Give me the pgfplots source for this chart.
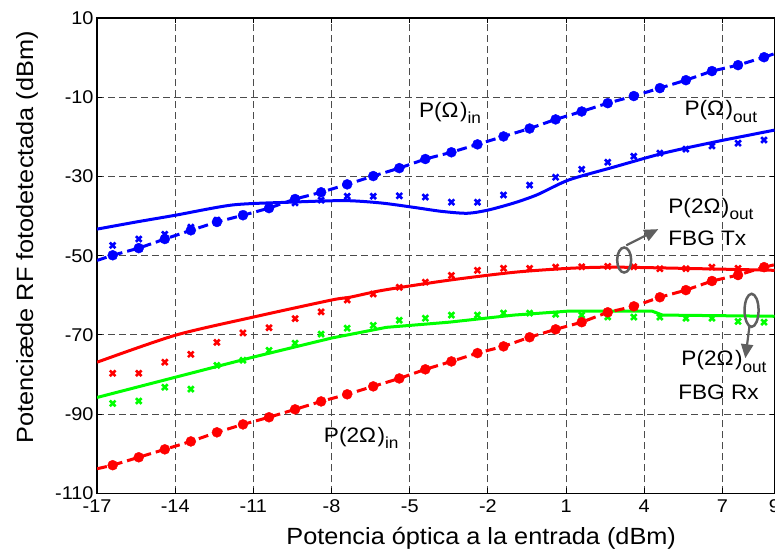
\documentclass[border=0pt]{standalone}
\usepackage{fontspec}
\setmainfont{Liberation Sans}[FakeStretch=1.08]
\usepackage{pgfplots}
\pgfplotsset{compat=1.18}
\usetikzlibrary{arrows.meta}
\definecolor{mblue}{RGB}{0,0,255}
\definecolor{mred}{RGB}{255,0,0}
\definecolor{mgreen}{RGB}{0,255,0}
\definecolor{annot}{RGB}{95,95,95}
\newcommand{\sub}[1]{\raisebox{-0.32em}{\fontsize{16}{16}\selectfont #1}}

\pgfplotstableread{
x y
-16.4 -47.4
-15.4 -45.8
-14.4 -44.6
-13.4 -42.8
-12.4 -41.0
-11.4 -39.5
-10.4 -38.0
-9.4 -36.7
-8.4 -36.0
-7.4 -35.0
-6.4 -35.0
-5.4 -34.9
-4.4 -35.2
-3.4 -36.5
-2.4 -36.5
-1.4 -34.7
-0.4 -32.2
0.6 -30.2
1.6 -28.2
2.6 -26.4
3.6 -24.9
4.6 -24.1
5.6 -23.1
6.6 -22.3
7.6 -21.6
8.6 -20.8
}\bluex

\pgfplotstableread{
x y
-16.4 -79.7
-15.4 -79.7
-14.4 -76.9
-13.4 -74.9
-12.4 -71.9
-11.4 -69.5
-10.4 -68.2
-9.4 -65.9
-8.4 -64.2
-7.4 -61.2
-6.4 -59.7
-5.4 -58.0
-4.4 -56.7
-3.4 -55.0
-2.4 -53.7
-1.4 -53.2
-0.4 -53.2
0.6 -52.9
1.6 -52.8
2.6 -52.7
3.6 -52.8
4.6 -53.3
5.6 -53.3
6.6 -52.9
7.6 -53.2
8.6 -53.0
}\redx

\pgfplotstableread{
x y
-16.4 -87.3
-15.4 -86.7
-14.4 -83.2
-13.4 -83.7
-12.4 -77.7
-11.4 -76.4
-10.4 -73.9
-9.4 -72.1
-8.4 -69.8
-7.4 -68.3
-6.4 -67.6
-5.4 -66.3
-4.4 -65.8
-3.4 -65.0
-2.4 -65.0
-1.4 -64.5
-0.4 -64.5
0.6 -64.8
1.6 -65.0
2.6 -65.5
3.6 -65.5
4.6 -65.5
5.6 -65.8
6.6 -65.8
7.6 -66.6
8.6 -66.8
}\greenx

\pgfplotstableread{
x y
-16.4 -49.9
-15.4 -48.1
-14.4 -45.8
-13.4 -43.6
-12.4 -41.5
-11.4 -39.8
-10.4 -38.0
-9.4 -35.7
-8.4 -34.0
-7.4 -32.0
-6.4 -29.9
-5.4 -27.9
-4.4 -25.6
-3.4 -23.9
-2.4 -21.9
-1.4 -19.9
-0.4 -17.9
0.6 -15.6
1.6 -13.6
2.6 -11.5
3.6 -9.7
4.6 -7.7
5.6 -5.7
6.6 -3.4
7.6 -1.9
8.6 0.1
}\bluein

\pgfplotstableread{
x y
-16.4 -102.9
-15.4 -100.9
-14.4 -98.9
-13.4 -96.9
-12.4 -94.6
-11.4 -92.6
-10.4 -90.8
-9.4 -88.8
-8.4 -86.8
-7.4 -85.0
-6.4 -83.0
-5.4 -81.0
-4.4 -78.7
-3.4 -76.7
-2.4 -74.6
-1.4 -72.9
-0.4 -70.6
0.6 -68.6
1.6 -66.8
2.6 -64.3
3.6 -62.8
4.6 -60.5
5.6 -58.7
6.6 -56.4
7.6 -54.9
8.6 -52.9
}\redin

\begin{document}
\begin{tikzpicture}
\begin{axis}[
  width=677bp, height=475bp, scale only axis,
  xmin=-17, xmax=9, ymin=-110, ymax=10,
  xtick={-17,-14,-11,-8,-5,-2,1,4,7,9},
  ytick={-110,-90,-70,-50,-30,-10,10},
  grid=major,
  major grid style={black!70, line width=0.8bp, dash pattern=on 7bp off 4bp},
  axis line style={black, line width=1.2bp},
  tick align=inside, major tick length=5bp,
  tick style={black, line width=0.8bp},
  /pgf/number format/assume math mode=true,
  ticklabel style={font=\fontsize{18.5}{20}\selectfont},
  xticklabel style={yshift=-3bp},
  xlabel={Potencia óptica a la entrada (dBm)},
  ylabel={Potenciæde RF fotodetectada (dBm)},
  label style={font=\fontsize{23.5}{26}\selectfont},
  xlabel style={at={(axis description cs:0.567,-0.095)}, anchor=center},
  ylabel style={at={(axis description cs:-0.1034,0.539)}, anchor=center},
  clip mode=individual,
]
% simulated (solid)
\addplot[mblue, line width=3bp, smooth, tension=0.45] coordinates {
(-17,-43.3) (-15.5,-41.5) (-14,-39.8) (-11.8,-37.2) (-9.6,-36.5) (-7.5,-36.1) (-6.1,-36.7)
(-4.85,-37.8) (-3.8,-38.8) (-2.8,-39.3) (-2.0,-38.5) (-1.0,-36.7) (-0.1,-34.6) (1.1,-30.9)
(2.85,-27.6) (4.75,-24.1) (6.7,-21.3) (8.0,-19.6) (9,-18.3)};
\addplot[mred, line width=3bp, smooth, tension=0.45] coordinates {
(-17,-76.9) (-14,-70.1) (-11,-65.5) (-8,-61.2) (-7.3,-60.5) (-6,-58.7) (-3.5,-56.2)
(-1,-54.2) (1.1,-53.2) (2.85,-52.9) (6.2,-53.3) (9,-53.7)};
\addplot[mgreen, line width=3bp] coordinates {
(-17,-85.8) (-14,-80.7) (-11,-75.6) (-8,-70.8) (-5.9,-68.1) (-3.5,-66.8) (-1,-65.0)
(1.1,-64.0) (4.3,-64.0) (4.7,-65.0) (9,-65.3)};
% measured (x)
\addplot[only marks, mark=x, mark size=4bp, mblue, mark options={line width=2.6bp}] table {\bluex};
\addplot[only marks, mark=x, mark size=4bp, mred, mark options={line width=2.6bp}] table {\redx};
\addplot[only marks, mark=x, mark size=4bp, mgreen, mark options={line width=2.6bp}] table {\greenx};
% input (dashed + circles)
\addplot[mblue, line width=3bp, dash pattern=on 10bp off 5bp] coordinates {(-17,-51.2) (-16.4,-49.9)};
\addplot[mblue, line width=3bp, dash pattern=on 10bp off 5bp] table {\bluein};
\addplot[mblue, line width=3bp, dash pattern=on 10bp off 5bp] coordinates {(8.6,0.1) (9,1.0)};
\addplot[only marks, mark=*, mark size=5bp, mblue] table {\bluein};
\addplot[mred, line width=3bp, dash pattern=on 10bp off 5bp] coordinates {(-17,-103.8) (-16.4,-102.9)};
\addplot[mred, line width=3bp, dash pattern=on 10bp off 5bp] table {\redin};
\addplot[mred, line width=3bp, dash pattern=on 10bp off 5bp] coordinates {(8.6,-52.9) (9,-52.3)};
\addplot[only marks, mark=*, mark size=5bp, mred] table {\redin};
% annotations
\node[anchor=base west, font=\fontsize{21}{24}\selectfont, inner sep=0pt] at (axis cs:-4.65,-15) {P(Ω\kern1.5bp)\sub{in}};
\node[anchor=base west, font=\fontsize{21}{24}\selectfont, inner sep=0pt] at (axis cs:5.54,-14.6) {P(Ω\kern1.5bp)\sub{out}};
\node[anchor=base west, font=\fontsize{21}{24}\selectfont, inner sep=0pt] at (axis cs:4.92,-39.3) {P(2Ω\kern1.5bp)\sub{out}};
\node[anchor=base west, font=\fontsize{21}{24}\selectfont, inner sep=0pt] at (axis cs:4.92,-47.4) {FBG Tx};
\node[anchor=base west, font=\fontsize{21}{24}\selectfont, inner sep=0pt] at (axis cs:5.42,-77.7) {P(2Ω\kern1.5bp)\sub{out}};
\node[anchor=base west, font=\fontsize{21}{24}\selectfont, inner sep=0pt] at (axis cs:5.3,-86.3) {FBG Rx};
\node[anchor=base west, font=\fontsize{21}{24}\selectfont, inner sep=0pt] at (axis cs:-8.3,-97.1) {P(2Ω\kern1.5bp)\sub{in}};
\draw[annot, line width=2.5bp] (axis cs:3.23,-51.1) ellipse [x radius=7bp, y radius=12.5bp];
\draw[annot, line width=2.5bp] (axis cs:8.12,-63.8) ellipse [x radius=7bp, y radius=16.5bp];
\draw[annot, line width=2.2bp, -{Triangle[length=14bp,width=12bp]}] (axis cs:3.31,-47.4) -- (axis cs:4.54,-43.3);
\draw[annot, line width=2.2bp, -{Triangle[length=14bp,width=12bp]}] (axis cs:8.04,-67.8) -- (axis cs:7.88,-75.9);
\end{axis}
\pgfresetboundingbox
\path[use as bounding box] (-97bp,-60bp) rectangle (677.5bp,493bp);
\end{tikzpicture}
\end{document}
